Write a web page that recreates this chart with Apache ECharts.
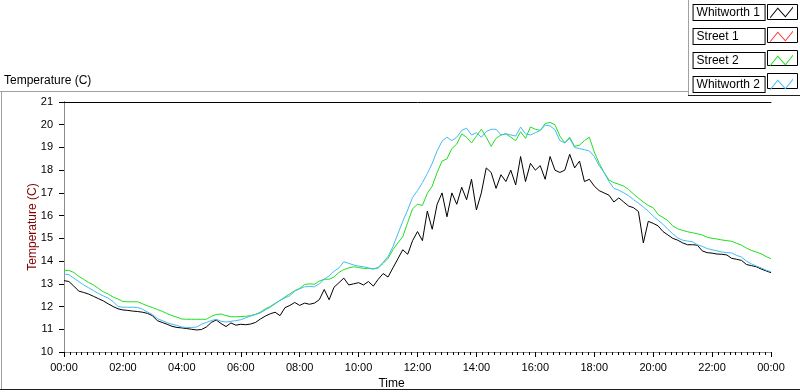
<!DOCTYPE html>
<html>
<head>
<meta charset="utf-8">
<script src="https://cdn.jsdelivr.net/npm/echarts@6/dist/echarts.min.js"></script>
<style>
  html, body { margin: 0; padding: 0; background: #fff; }
  #chart { width: 800px; height: 392px; }
</style>
</head>
<body>
<div id="chart"></div>
<script>
// samples every 10 minutes, 00:00 -> 24:00 (one row per hour)
const whitworth1 = [
    13.14, 13.1, 12.9, 12.68, 12.62, 12.55,
    12.45, 12.35, 12.25, 12.12, 12.0, 11.9,
    11.85, 11.83, 11.8, 11.78, 11.75, 11.7,
    11.6, 11.38, 11.3, 11.22, 11.13, 11.08,
    11.06, 11.03, 11.0, 10.97, 10.99, 11.1,
    11.3, 11.41, 11.25, 11.12, 11.28, 11.18,
    11.22, 11.2, 11.23, 11.3, 11.45, 11.58,
    11.68, 11.75, 11.6, 11.95, 12.05, 12.18,
    12.05, 12.15, 12.1, 12.15, 12.3, 12.75,
    12.3, 12.85, 13.05, 13.25, 12.95, 13.0,
    13.05, 12.95, 13.1, 12.9, 13.2, 13.45,
    13.3, 13.7, 14.1, 14.5, 14.3, 14.9,
    15.3, 14.9, 16.2, 15.4, 16.5, 17.0,
    15.95, 17.0, 16.5, 17.25, 16.7, 17.6,
    16.25, 17.0, 18.1, 17.9, 17.2, 17.8,
    17.5, 18.0, 17.35, 18.6, 17.5, 18.3,
    18.0, 18.2, 17.6, 18.6, 18.0, 17.9,
    18.0, 18.7, 18.1, 18.4, 17.5, 17.6,
    17.3, 17.1, 17.0, 16.9, 16.6, 16.78,
    16.6, 16.42, 16.35, 16.18, 14.8, 15.75,
    15.66, 15.55, 15.3, 15.15, 15.0, 14.92,
    14.8, 14.72, 14.72, 14.7, 14.45, 14.37,
    14.35, 14.31, 14.3, 14.27, 14.12, 14.08,
    14.03, 13.85, 13.8, 13.75, 13.65, 13.57,
    13.49
];
const street1 = [];
const street2 = [
    13.59, 13.59, 13.5, 13.33, 13.2, 13.06,
    12.95, 12.8, 12.65, 12.55, 12.42, 12.33,
    12.22, 12.21, 12.21, 12.21, 12.12, 12.03,
    11.96, 11.87, 11.79, 11.69, 11.6, 11.53,
    11.45, 11.44, 11.44, 11.44, 11.44, 11.44,
    11.57, 11.65, 11.67, 11.6, 11.55, 11.55,
    11.56, 11.57, 11.6, 11.66, 11.75, 11.9,
    12.0, 12.14, 12.27, 12.42, 12.56, 12.7,
    12.8, 12.97, 13.0, 12.98, 13.12, 13.2,
    13.2, 13.3, 13.5, 13.63, 13.7, 13.75,
    13.72, 13.68, 13.68, 13.65, 13.7, 13.9,
    14.12, 14.5, 14.8, 15.07, 15.7, 16.3,
    16.5, 16.45, 16.98, 17.3, 17.9, 18.4,
    18.5, 18.95, 19.15, 19.6, 19.45, 19.2,
    19.5, 19.8, 19.45, 19.05, 19.4, 19.55,
    19.6, 19.45, 19.3, 19.69, 19.4, 19.9,
    19.8, 19.75, 20.05, 20.1, 20.0, 19.5,
    19.2, 19.45, 19.05, 19.1, 19.3, 19.45,
    18.8, 18.3, 17.9, 17.57, 17.45, 17.38,
    17.3, 17.15, 16.95, 16.77, 16.6, 16.45,
    16.35, 16.05, 15.92, 15.78, 15.55, 15.42,
    15.35, 15.29, 15.25, 15.2, 15.15, 15.05,
    15.0, 14.97, 14.93, 14.9, 14.87, 14.78,
    14.7, 14.57, 14.47, 14.4, 14.32, 14.2,
    14.1
];
const whitworth2 = [
    13.43, 13.4, 13.25, 13.1, 12.95, 12.83,
    12.7, 12.58, 12.47, 12.37, 12.22, 12.0,
    11.97, 11.97, 11.97, 11.96, 11.88, 11.76,
    11.65, 11.47, 11.38, 11.29, 11.22, 11.17,
    11.1, 11.08, 11.08, 11.1, 11.22, 11.3,
    11.38, 11.44, 11.35, 11.32, 11.35, 11.38,
    11.42, 11.5, 11.58, 11.65, 11.72, 11.85,
    11.97, 12.12, 12.27, 12.38, 12.48, 12.68,
    12.78, 12.87, 12.88, 12.87, 13.0, 13.2,
    13.35, 13.55, 13.7, 13.97, 13.9, 13.83,
    13.78, 13.75, 13.7, 13.66, 13.72, 13.95,
    14.2, 14.63, 15.2, 15.75, 16.25, 16.8,
    17.1, 17.45, 17.85, 18.3, 18.85, 19.28,
    19.45, 19.3, 19.45, 19.75, 19.85, 19.55,
    19.65, 19.45, 19.7, 19.8, 19.8, 19.55,
    19.6, 19.55, 19.5, 19.9, 19.6, 19.55,
    19.65, 19.75, 19.98, 19.95, 19.78, 19.3,
    19.2, 19.4, 19.0, 18.95, 18.9, 18.85,
    18.6, 18.2, 17.9, 17.5, 17.2, 17.12,
    17.0, 16.88, 16.7, 16.55, 16.38, 16.2,
    15.98, 15.8, 15.62, 15.4, 15.2, 15.02,
    14.92, 14.88, 14.85, 14.72, 14.65, 14.55,
    14.5, 14.45, 14.4, 14.37, 14.36, 14.25,
    14.18, 14.0, 13.88, 13.78, 13.7, 13.6,
    13.53
];

const seriesNames = ['Whitworth 1', 'Street 1', 'Street 2', 'Whitworth 2'];
const seriesColors = ['#000000', '#ff3b3b', '#1ee01e', '#45bbf5'];
const seriesValues = [whitworth1, street1, street2, whitworth2];

const FONT = 'Liberation Sans, Arial, sans-serif';
const STEP = 10 / 60; // hours between samples

// sample index -> [hour, value]
function toPoints(values) {
    return values.map((v, i) => [i * STEP, v]);
}

function hhmm(v) {
    const h = v % 24;
    return (h < 10 ? '0' : '') + h + ':00';
}

const zigzag = 'path://M0,11 L8,1 L16,10 L24,0 L24,1.6 L16,11.6 L8,2.6 L0,12.6 Z';

const option = {
    animation: false,
    backgroundColor: '#fff',
    textStyle: { fontFamily: FONT },
    title: {
        text: 'Temperature (C)',
        left: 4,
        top: 75,
        padding: 0,
        textStyle: { fontSize: 12, fontWeight: 'normal', color: '#000', fontFamily: FONT }
    },
    legend: {
        orient: 'vertical',
        right: 7,
        top: 4,
        padding: 0,
        align: 'right',
        itemGap: 7,
        itemWidth: 24,
        itemHeight: 12,
        icon: zigzag,
        selectedMode: false,
        itemStyle: { borderWidth: 0 },
        data: seriesNames,
        formatter: name => '{a|' + name + '}',
        textStyle: {
            borderColor: '#000',
            borderWidth: 1,
            backgroundColor: '#fff',
            padding: [1, 2, 0, 3],
            rich: {
                a: { width: 66, align: 'left', fontSize: 12, lineHeight: 14, color: '#000', fontFamily: FONT }
            }
        }
    },
    grid: {
        left: 64,
        right: 29,
        top: 102,
        bottom: 40,
        containLabel: false,
        outerBoundsMode: 'none'
    },
    xAxis: [
        {
            type: 'value',
            min: 0,
            max: 24,
            interval: 2,
            name: 'Time',
            nameLocation: 'middle',
            nameGap: 26,
            nameMoveOverlap: false,
            nameTextStyle: { fontSize: 12, color: '#000', padding: [0, 52, 0, 0] },
            axisLine: { lineStyle: { color: '#8c8c8c', width: 1 } },
            axisTick: { show: true, length: 5, lineStyle: { color: '#000' } },
            minorTick: { show: true, splitNumber: 10, length: 3, lineStyle: { color: '#000' } },
            axisLabel: { formatter: hhmm, fontSize: 11, color: '#000', margin: 10 },
            splitLine: { show: false }
        },
        {
            type: 'value',
            position: 'top',
            min: 0,
            max: 24,
            axisLine: { show: true, lineStyle: { color: '#000', width: 1 } },
            axisTick: { show: false },
            axisLabel: { show: false },
            splitLine: { show: false }
        }
    ],
    yAxis: [
        {
            type: 'value',
            min: 10,
            max: 21,
            interval: 1,
            name: 'Temperature (C)',
            nameLocation: 'middle',
            nameGap: 25,
            nameMoveOverlap: false,
            nameTextStyle: { fontSize: 12, color: '#800000' },
            axisLine: { show: true, lineStyle: { color: '#000', width: 1 } },
            axisTick: { show: true, length: 5, lineStyle: { color: '#000' } },
            axisLabel: { fontSize: 11, color: '#000', margin: 11 },
            splitLine: { show: false }
        },
        {
            type: 'value',
            position: 'right',
            min: 10,
            max: 21,
            axisLine: { show: true, lineStyle: { color: '#8c8c8c', width: 1 } },
            axisTick: { show: false },
            axisLabel: { show: false },
            splitLine: { show: false }
        }
    ],
    graphic: [
        // outer panel frame
        { type: 'line', silent: true, shape: { x1: 0, y1: 91.5, x2: 688, y2: 91.5 }, style: { stroke: '#a0a0a0', lineWidth: 1 } },
        { type: 'line', silent: true, shape: { x1: 1.5, y1: 91.5, x2: 1.5, y2: 390 }, style: { stroke: '#a0a0a0', lineWidth: 1 } },
        { type: 'line', silent: true, shape: { x1: 0, y1: 389.5, x2: 800, y2: 389.5 }, style: { stroke: '#202020', lineWidth: 1 } },
        // legend panel frame
        { type: 'line', silent: true, shape: { x1: 688.5, y1: 0, x2: 688.5, y2: 96 }, style: { stroke: '#a0a0a0', lineWidth: 1 } },
        { type: 'line', silent: true, shape: { x1: 688, y1: 95.5, x2: 800, y2: 95.5 }, style: { stroke: '#202020', lineWidth: 1 } },
        // boxes around the legend glyphs
        { type: 'rect', silent: true, z: 0, shape: { x: 767.5, y: 4.5, width: 30, height: 15 }, style: { fill: '#fff', stroke: '#000', lineWidth: 1 } },
        { type: 'rect', silent: true, z: 0, shape: { x: 767.5, y: 27.5, width: 30, height: 15 }, style: { fill: '#fff', stroke: '#000', lineWidth: 1 } },
        { type: 'rect', silent: true, z: 0, shape: { x: 767.5, y: 50.5, width: 30, height: 15 }, style: { fill: '#fff', stroke: '#000', lineWidth: 1 } },
        { type: 'rect', silent: true, z: 0, shape: { x: 767.5, y: 73.5, width: 30, height: 15 }, style: { fill: '#fff', stroke: '#000', lineWidth: 1 } }
    ],
    series: seriesNames.map((name, k) => ({
        name: name,
        type: 'line',
        xAxisIndex: 0,
        yAxisIndex: 0,
        showSymbol: false,
        symbol: 'none',
        color: seriesColors[k],
        lineStyle: { width: 1, color: seriesColors[k] },
        data: toPoints(seriesValues[k])
    }))
};

const chart = echarts.init(document.getElementById('chart'));
chart.setOption(option);
</script>
</body>
</html>
